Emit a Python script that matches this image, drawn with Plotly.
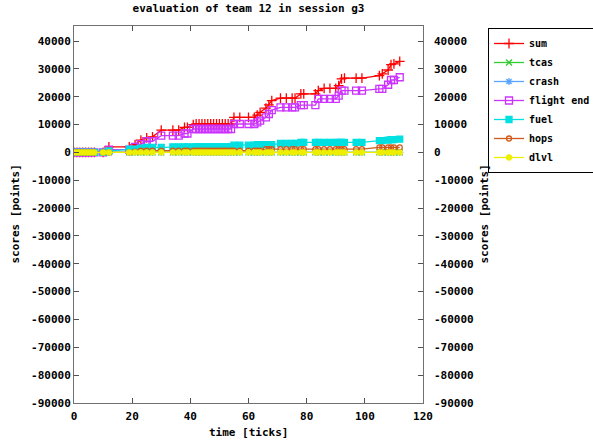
import plotly.graph_objects as go

# ---- data ----
times = [0, 1, 2, 3, 4, 5, 6, 7, 10, 12, 19, 21, 23, 25, 27, 30, 34, 36, 38, 39,
         41, 42, 43, 44, 45, 46, 47, 48, 49, 50, 51, 52, 53, 54,
         55, 57, 60, 62, 63, 64, 66, 67, 68, 71, 73, 75, 76, 78, 79, 83,
         84, 86, 88, 90, 91, 92, 93, 97, 99, 105, 106, 108, 109, 110, 112]

sum_scores = [0, 0, 0, 0, 0, 0, 0, 0, 0, 2000, 2000, 2800, 4400, 5200, 5600, 8000, 8000, 8000, 9000, 9000,
              10000, 10200, 10200, 10200, 10200, 10200, 10200, 10200, 10200, 10200, 10200, 10200, 10200, 10200,
              12600, 12600, 12600, 12600, 13400, 14400, 15900, 17100, 18600, 19500, 19500, 19500, 19500, 21000, 21000, 21000,
              22200, 23000, 23000, 23000, 24000, 26400, 26700, 26700, 26700, 27600, 28200, 29600, 31500, 31800, 32700]

flight_end = [0, 0, 0, 0, 0, 0, 0, 0, 0, 1000, 1000, 2000, 3000, 4000, 4000, 6000, 6000, 6000, 6800, 6800,
              8400, 8400, 8400, 8400, 8400, 8400, 8400, 8400, 8400, 8400, 8400, 8400, 8400, 8400,
              10200, 10200, 10200, 10200, 10800, 11400, 12600, 13800, 15200, 16200, 16200, 16200, 16200, 17000, 17000, 17000,
              19200, 19200, 19200, 19200, 20400, 22200, 22200, 22200, 22200, 22800, 22800, 24300, 26000, 26000, 27000]

fuel = [0, 0, 0, 0, 0, 0, 0, 0, 0, 500, 1200, 1200, 1500, 1800, 1800, 1800, 2000, 2000, 2000, 2000,
        2000, 2000, 2000, 2000, 2000, 2000, 2000, 2000, 2000, 2000, 2000, 2000, 2000, 2000,
        2600, 2600, 2600, 2600, 2800, 2800, 2800, 2800, 2800, 3200, 3200, 3200, 3200, 3600, 3600, 3600,
        3600, 3600, 3600, 3600, 3600, 3600, 3600, 3600, 3600, 4200, 4200, 4400, 4600, 4600, 4800]

hops = [0, 0, 0, 0, 0, 0, 0, 0, 0, 0, 0, 300, 600, 600, 600, 600, 600, 600, 600, 600,
        600, 600, 600, 600, 600, 600, 600, 600, 600, 600, 600, 600, 600, 600,
        600, 600, 600, 600, 600, 600, 1200, 1200, 1200, 1200, 1200, 1200, 1200, 1200, 1200, 1200,
        1200, 1200, 1200, 1200, 1200, 1200, 1200, 1200, 1200, 1800, 1800, 1800, 1800, 1800, 1800]

tcas = [0] * len(times)
crash = [0] * len(times)
dlvl = [0] * len(times)

y_ticks = list(range(-90000, 40001, 10000))
x_ticks = [0, 20, 40, 60, 80, 100, 120]

FONT = "DejaVu Sans Mono"

series = [
    ("sum", sum_scores, "#ff0000", "cross-thin-open", 7),
    ("tcas", tcas, "#33cc33", "x-thin-open", 6),
    ("crash", crash, "#5aa5ff", "asterisk-open", 6),
    ("flight end", flight_end, "#cc33ff", "square-open", 7),
    ("fuel", fuel, "#00e0e0", "square", 6),
    ("hops", hops, "#d05a1a", "circle-open", 5),
    ("dlvl", dlvl, "#eeee00", "circle", 5),
]

fig = go.Figure()
for name, vals, color, sym, size in series:
    fig.add_trace(go.Scatter(
        x=times, y=vals, name=name, mode="lines+markers",
        line=dict(color=color, width=1.3),
        marker=dict(symbol=sym, size=size, color=color,
                    line=dict(color=color, width=1.3)),
    ))

# invisible helper trace so the mirrored right-hand axis is drawn
fig.add_trace(go.Scatter(x=[None], y=[None], yaxis="y2", showlegend=False,
                         hoverinfo="skip", mode="lines"))

axis_common = dict(
    showgrid=False, zeroline=False, showline=True, linecolor="#707070", linewidth=1,
    mirror="ticks", ticks="inside", ticklen=5, tickcolor="#505050", automargin=False,
    tickfont=dict(family=FONT, size=11, color="black", weight="bold"),
)

fig.update_layout(
    width=593, height=444,
    margin=dict(l=74, r=170, t=26, b=41, autoexpand=False),
    paper_bgcolor="white", plot_bgcolor="white",
    title=dict(text="evaluation of team 12 in session g3", x=0.5, xref="paper",
               xanchor="center", y=1 - 8 / 444, yanchor="middle",
               font=dict(family=FONT, size=11, color="black", weight="bold")),
    xaxis=dict(range=[0, 120], tickvals=x_ticks, ticktext=[str(v) for v in x_ticks],
               ticklabelstandoff=3, **axis_common),
    yaxis=dict(range=[-90000, 45400], tickvals=y_ticks, ticktext=[str(v) for v in y_ticks], **axis_common),
    yaxis2=dict(range=[-90000, 45400], tickvals=y_ticks, ticktext=[str(v) for v in y_ticks],
                overlaying="y", side="right", anchor="x", automargin=False,
                showgrid=False, zeroline=False, showline=False, ticks="",
                ticklabelstandoff=10,
                tickfont=dict(family=FONT, size=11, color="black", weight="bold")),
    legend=dict(x=(488 - 74) / 349, y=(403 - 28) / 377, xanchor="left", yanchor="top",
                bordercolor="black", borderwidth=1, bgcolor="white",
                font=dict(family=FONT, size=10, color="black", weight="bold"),
                tracegroupgap=0, itemwidth=30),
    showlegend=True,
    annotations=[
        dict(text="scores [points]", xref="paper", yref="paper", x=(15 - 74) / 349, y=0.5,
             textangle=-90, showarrow=False, xanchor="center", yanchor="middle",
             font=dict(family=FONT, size=11, color="black", weight="bold")),
        dict(text="scores [points]", xref="paper", yref="paper", x=(484 - 74) / 349, y=0.5,
             textangle=-90, showarrow=False, xanchor="center", yanchor="middle",
             font=dict(family=FONT, size=11, color="black", weight="bold")),
        dict(text="time [ticks]", xref="paper", yref="paper", x=0.5, y=-(432 - 403) / 377,
             showarrow=False, xanchor="center", yanchor="middle",
             font=dict(family=FONT, size=11, color="black", weight="bold")),
    ],
)

fig.write_html("out.html", config={"displayModeBar": False},
               post_script="document.body.style.margin='0';")
